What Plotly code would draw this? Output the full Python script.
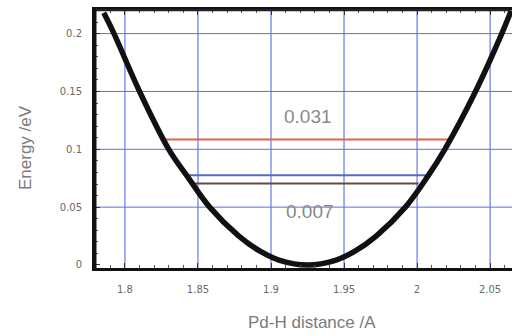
import plotly.graph_objects as go

# Pd-H potential energy curve (distance in Å, energy in eV)
pdh_distance = [1.7855, 1.7925, 1.810, 1.830, 1.8425, 1.858, 1.878, 1.8925,
                1.906, 1.925, 1.944, 1.9575, 1.972, 1.992, 2.0075, 2.019,
                2.040, 2.058, 2.0645]
pdh_energy = [0.218, 0.200, 0.150, 0.100, 0.077, 0.050, 0.025, 0.012,
              0.004, 0.0, 0.004, 0.012, 0.025, 0.050, 0.077, 0.100,
              0.150, 0.200, 0.220]

# Vibrational levels: energy and left/right turning points
level_energy = [0.1085, 0.0775, 0.0705]
level_left = [1.8265, 1.842, 1.848]
level_right = [2.0226, 2.0067, 2.001]
level_colors = ["#e5604e", "#4c6ad6", "#5e4c42"]

x_ticks = [1.8, 1.85, 1.9, 1.95, 2.0, 2.05]
x_tick_text = ["1.8", "1.85", "1.9", "1.95", "2", "2.05"]
y_ticks = [0, 0.05, 0.1, 0.15, 0.2]
y_tick_text = ["0", "0.05", "0.1", "0.15", "0.2"]
x_minor = [round(1.78 + 0.01 * i, 2) for i in range(29)]
y_minor = [round(0.01 * i, 2) for i in range(23)]

fig = go.Figure()

# Blue grid drawn beneath the data
grid_color = "#4a5ee0"
for xv in x_ticks:
    fig.add_shape(type="line", xref="x", yref="paper", x0=xv, x1=xv, y0=0, y1=1,
                  line=dict(color=grid_color, width=1), layer="below")
for yv in y_ticks[1:]:
    fig.add_shape(type="line", xref="paper", yref="y", x0=0, x1=1, y0=yv, y1=yv,
                  line=dict(color="#5a6de6", width=1), layer="below")

# Frame: heavy left and top edges
fig.add_shape(type="line", xref="paper", yref="paper", x0=0, x1=0.995, y0=1, y1=1,
              line=dict(color="#222222", width=2.5))
fig.add_shape(type="line", xref="paper", yref="paper", x0=0, x1=0, y0=0, y1=1,
              line=dict(color="#111111", width=3))

for e, xl, xr, c in zip(level_energy, level_left, level_right, level_colors):
    fig.add_trace(go.Scatter(x=[xl, xr], y=[e, e], mode="lines",
                             line=dict(color=c, width=2), hoverinfo="skip"))

fig.add_trace(go.Scatter(x=pdh_distance, y=pdh_energy, mode="lines",
                         line=dict(color="#111111", width=5.5, shape="spline", smoothing=1.0),
                         hoverinfo="skip"))

# Level spacings written between the levels
gap_upper = round(level_energy[0] - level_energy[1], 3)
gap_lower = round(level_energy[1] - level_energy[2], 3)
label_font = dict(family="Liberation Sans, Arial", size=19, color="#8a8a8a")
fig.add_annotation(x=1.9255, y=0.1285, text=f"{gap_upper:.3f}", showarrow=False,
                   font=label_font, xanchor="center", yanchor="middle")
fig.add_annotation(x=1.9265, y=0.0465, text=f"{gap_lower:.3f}", showarrow=False,
                   font=label_font, xanchor="center", yanchor="middle")

# Axis titles
title_font = dict(family="Liberation Sans, Arial", size=17, color="#7a7a7a")
fig.add_annotation(xref="paper", yref="paper", x=(312 - 95) / 417, y=-54 / 258,
                   text="Pd-H distance /A", showarrow=False, font=title_font,
                   xanchor="center", yanchor="middle")
fig.add_annotation(xref="paper", yref="paper", x=-70 / 417, y=(268 - 148) / 258,
                   text="Energy /eV", showarrow=False, font=title_font, textangle=-90,
                   xanchor="center", yanchor="middle")

tick_font = dict(family="DejaVu Sans", size=10, color="#6a6a6a")
fig.update_xaxes(range=[1.7795, 2.065], tickvals=x_ticks, ticktext=x_tick_text,
                 showgrid=False, zeroline=False,
                 showline=True, linecolor="#111111", linewidth=2.5, mirror="allticks",
                 ticks="inside", ticklen=5, tickcolor="#333333",
                 minor=dict(tickvals=x_minor, ticks="inside", ticklen=3,
                            tickcolor="#555555", showgrid=False),
                 tickfont=tick_font, ticklabelstandoff=10)
fig.update_yaxes(range=[-0.0026, 0.2204], tickvals=y_ticks, ticktext=y_tick_text,
                 showgrid=False, zeroline=False,
                 showline=True, linecolor="#111111", linewidth=3, mirror=False,
                 ticks="inside", ticklen=5, tickcolor="#333333",
                 minor=dict(tickvals=y_minor, ticks="inside", ticklen=3,
                            tickcolor="#555555", showgrid=False),
                 tickfont=tick_font, ticklabelstandoff=8)

fig.update_layout(width=512, height=336, margin=dict(l=95, r=0, t=10, b=68),
                  paper_bgcolor="white", plot_bgcolor="white", showlegend=False)

fig.write_html("out.html")
